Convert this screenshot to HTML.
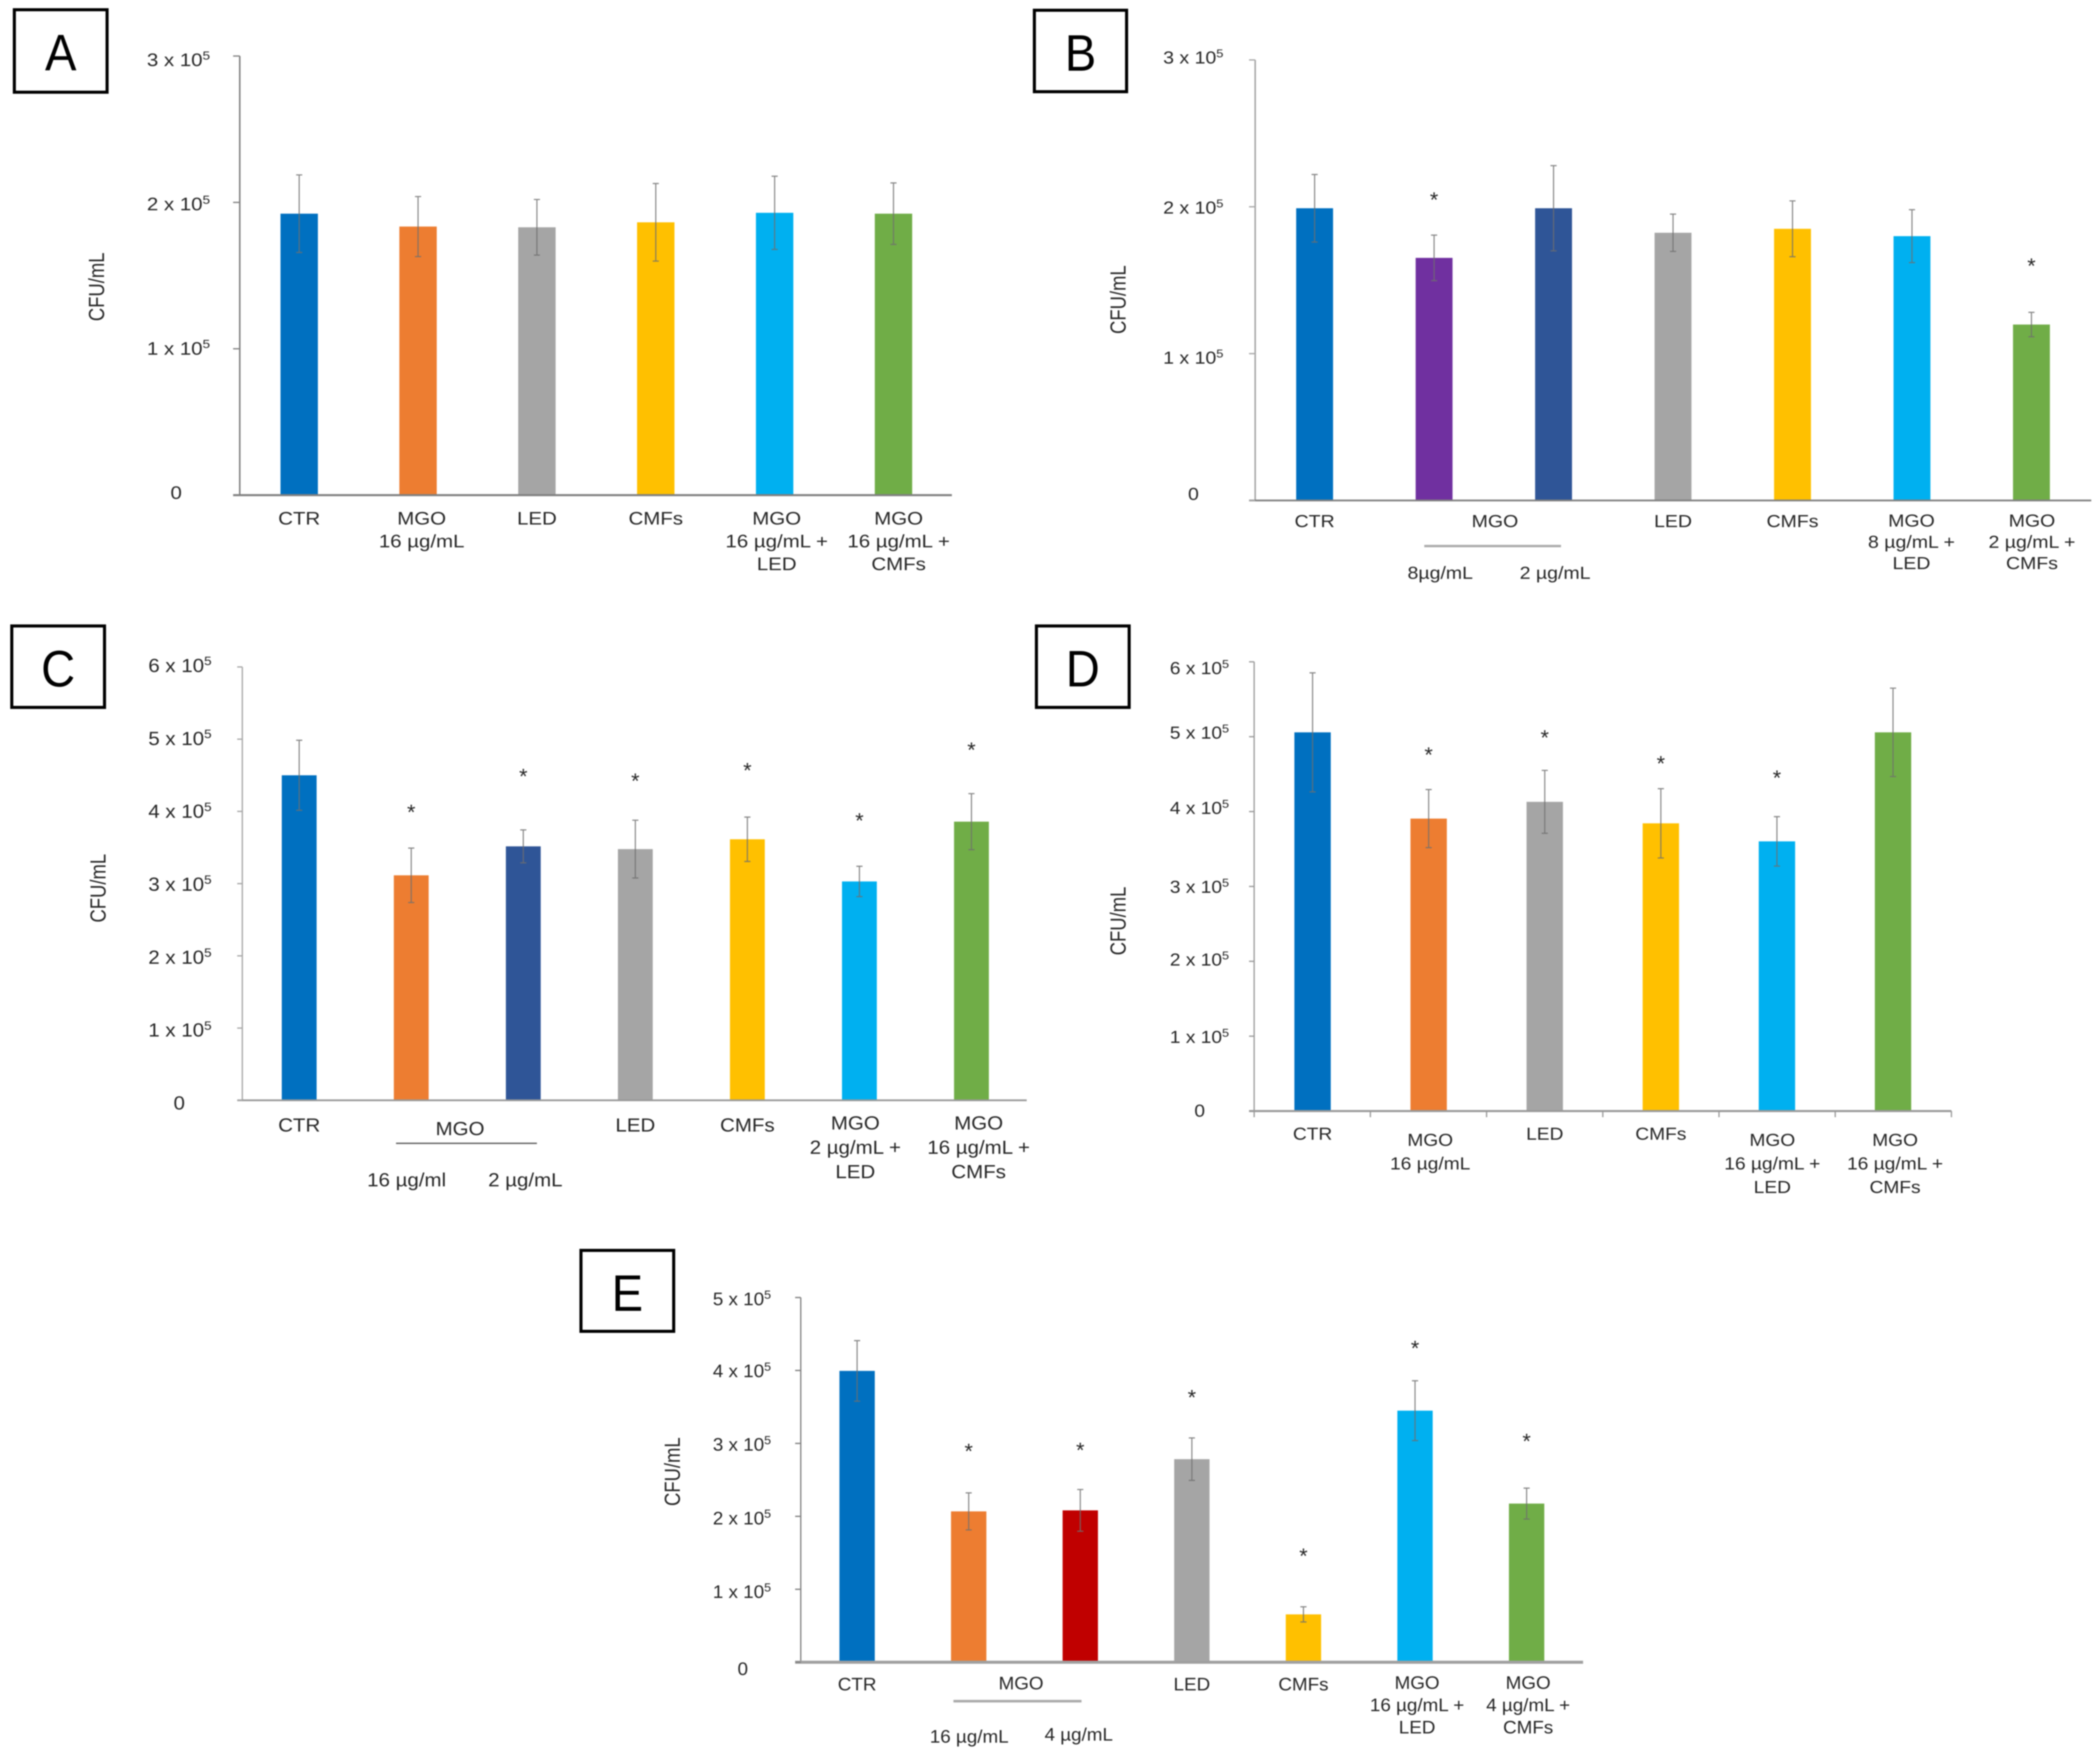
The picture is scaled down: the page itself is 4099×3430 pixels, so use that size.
<!DOCTYPE html>
<html lang="en">
<head>
<meta charset="utf-8">
<title>CFU/mL bar charts, panels A to E</title>
<style>
  html, body { margin: 0; padding: 0; background: #fff; }
  #figure { display: block; width: 4099px; height: 3430px; background: #fff; filter: blur(1.3px); }
  text { font-family: "Liberation Sans", Arial, sans-serif; fill: #262626; }
</style>
</head>
<body>
<svg id="figure" xmlns="http://www.w3.org/2000/svg" width="4099" height="3430" viewBox="0 0 4099 3430"></svg>
<script>
// Values are in units of 1 x 10^5 CFU/mL.
const ticksA = [0, 1, 2, 3];
const tickLabelsA = ['0', '1 x 10^5', '2 x 10^5', '3 x 10^5'];
const categoriesA = ['CTR', 'MGO|16 µg/mL', 'LED', 'CMFs', 'MGO|16 µg/mL +|LED', 'MGO|16 µg/mL +|CMFs'];
const valuesA = [1.923, 1.835, 1.83, 1.864, 1.929, 1.923];
const errorsA = [0.265, 0.205, 0.19, 0.265, 0.25, 0.21];
const starsA = [null, null, null, null, null, null];

const ticksB = [0, 1, 2, 3];
const tickLabelsB = ['0', '1 x 10^5', '2 x 10^5', '3 x 10^5'];
const categoriesB = ['CTR', '8µg/mL', '2 µg/mL', 'LED', 'CMFs', 'MGO|8 µg/mL +|LED', 'MGO|2 µg/mL +|CMFs'];
const valuesB = [1.99, 1.652, 1.99, 1.823, 1.85, 1.8, 1.198];
const errorsB = [0.23, 0.155, 0.29, 0.127, 0.19, 0.18, 0.083];
const starsB = [null, 2.066, null, null, null, null, 1.617];

const ticksC = [0, 1, 2, 3, 4, 5, 6];
const tickLabelsC = ['0', '1 x 10^5', '2 x 10^5', '3 x 10^5', '4 x 10^5', '5 x 10^5', '6 x 10^5'];
const categoriesC = ['CTR', '16 µg/ml', '2 µg/mL', 'LED', 'CMFs', 'MGO|2 µg/mL +|LED', 'MGO|16 µg/mL +|CMFs'];
const valuesC = [4.5, 3.115, 3.516, 3.478, 3.614, 3.03, 3.858];
const errorsC = [0.485, 0.377, 0.228, 0.4, 0.307, 0.21, 0.388];
const starsC = [null, 4.03, 4.525, 4.46, 4.607, 3.912, 4.889];

const ticksD = [0, 1, 2, 3, 4, 5, 6];
const tickLabelsD = ['0', '1 x 10^5', '2 x 10^5', '3 x 10^5', '4 x 10^5', '5 x 10^5', '6 x 10^5'];
const categoriesD = ['CTR', 'MGO|16 µg/mL', 'LED', 'CMFs', 'MGO|16 µg/mL +|LED', 'MGO|16 µg/mL +|CMFs'];
const valuesD = [5.058, 3.906, 4.13, 3.843, 3.602, 5.058];
const errorsD = [0.795, 0.388, 0.42, 0.463, 0.33, 0.59];
const starsD = [null, 4.796, 5.026, 4.68, 4.487, null];

const ticksE = [0, 1, 2, 3, 4, 5];
const tickLabelsE = ['0', '1 x 10^5', '2 x 10^5', '3 x 10^5', '4 x 10^5', '5 x 10^5'];
const categoriesE = ['CTR', '16 µg/mL', '4 µg/mL', 'LED', 'CMFs', 'MGO|16 µg/mL +|LED', 'MGO|4 µg/mL +|CMFs'];
const valuesE = [3.994, 2.068, 2.082, 2.784, 0.656, 3.449, 2.175];
const errorsE = [0.415, 0.254, 0.286, 0.291, 0.104, 0.41, 0.212];
const starsE = [null, 2.932, 2.946, 3.67, 1.496, 4.344, 3.07];

const NS = 'http://www.w3.org/2000/svg';
const svg = document.getElementById('figure');

function make(parent, tag, attrs) {
  const el = document.createElementNS(NS, tag);
  for (const k in attrs) el.setAttribute(k, attrs[k]);
  parent.appendChild(el);
  return el;
}

function makeText(parent, str, x, y, anchor, fs, sx) {
  const el = make(parent, 'text', {
    transform: 'translate(' + x + ',' + y + ') scale(' + sx + ',1)',
    'text-anchor': anchor,
    'font-size': fs
  });
  const parts = str.split('^');
  el.appendChild(document.createTextNode(parts[0]));
  if (parts[1]) {
    const sup = make(el, 'tspan', { 'font-size': fs * 0.66, dy: -fs * 0.36 });
    sup.textContent = parts[1];
  }
  return el;
}

function drawPanel(p) {
  const g = make(svg, 'g', {});
  
  

  const yMax = p.ticks[p.ticks.length - 1];
  const yScale = v => p.y0 - (v / yMax) * (p.y0 - p.yTop);
  const xScale = i => p.x0 + p.step * i;

  // Panel letter box
  const box = make(g, 'rect', { x: p.boxX + 3, y: p.boxY + 3, width: p.boxW - 6, height: p.boxH - 6, fill: '#fff', stroke: '#000', 'stroke-width': 6 });
  
  
  const letter = make(g, 'text', {
    transform: 'translate(' + (p.boxX + p.boxW / 2) + ',' + (p.boxY + 121) + ') scale(0.92,1)',
    'text-anchor': 'middle', 'font-size': 100, style: 'fill:#000'
  });
  letter.textContent = p.letter;
  
  

  // Bars
  p.values.forEach((v, i) => {
    const bar = make(g, 'rect', { x: xScale(i) - p.barW / 2, y: yScale(v), width: p.barW, height: p.y0 - yScale(v), fill: p.colors[i] });
    
    
  });

  // Axes and ticks
  const yAxis = make(g, 'line', { x1: p.axisX, x2: p.axisX, y1: p.yTop, y2: p.y0, stroke: p.yAxisColor, 'stroke-width': p.yAxisW });
  
  
  const xAxis = make(g, 'line', { x1: p.tickLeft, x2: p.xEnd, y1: p.y0, y2: p.y0, stroke: p.xAxisColor, 'stroke-width': p.xAxisW });
  
  

  p.ticks.forEach((t, i) => {
    const tick = make(g, 'line', { x1: p.tickLeft, x2: p.axisX, y1: yScale(t), y2: yScale(t), stroke: p.yAxisColor, 'stroke-width': 2.5 });
    
    
    const frac = i / (p.ticks.length - 1);
    const nudge = p.labelNudge ? p.labelNudge[i] : 0;
    const lab = makeText(g, p.tickLabels[i], i === 0 ? p.zeroEnd : p.labEnd, p.lab0 + (p.labTop - p.lab0) * frac + nudge, 'end', p.fs, p.sx);
    
    
  });

  if (p.xTicks) {
    for (let i = 0; i <= p.categories.length; i++) {
      const xt = p.axisX + (p.xEnd - p.axisX) * i / p.categories.length;
      const tk = make(g, 'line', { x1: xt, x2: xt, y1: p.y0, y2: p.y0 + 12, stroke: p.xAxisColor, 'stroke-width': 2.5 });
      
      
    }
  }

  // Error bars
  p.values.forEach((v, i) => {
    const hi = yScale(v + p.errors[i]);
    const lo = yScale(v - p.errors[i]);
    const cx = xScale(i);
    const eb = make(g, 'path', {
      d: 'M' + (cx - 6) + ' ' + hi + 'H' + (cx + 6) + 'M' + cx + ' ' + hi + 'V' + lo + 'M' + (cx - 6) + ' ' + lo + 'H' + (cx + 6),
      fill: 'none', stroke: '#6f6f6f', 'stroke-width': 2.2, 'stroke-opacity': 0.85
    });
    
    
  });

  // Significance stars
  p.stars.forEach((s, i) => {
    if (s === null) return;
    const star = make(g, 'text', { x: xScale(i), y: yScale(s) + 20, 'text-anchor': 'middle', 'font-size': 42 });
    star.textContent = '*';
    
    
  });

  // Category labels
  p.categories.forEach((c, i) => {
    const lines = c.split('|');
    const isSub = p.subIndex && p.subIndex.indexOf(i) >= 0;
    const base = isSub ? p.subBase[p.subIndex.indexOf(i)] : (lines.length > 1 ? p.baseMulti : p.baseSingle);
    lines.forEach((line, j) => {
      const t = makeText(g, line, xScale(i) + p.labelDx[i], base + j * p.lineH, 'middle', p.fs, p.sx);
      
      
    });
  });

  // MGO group label and rule
  if (p.group) {
    const gl = makeText(g, 'MGO', p.group.textX, p.group.textY, 'middle', p.fs, p.sx);
    
    
    const rule = make(g, 'line', { x1: p.group.x1, x2: p.group.x2, y1: p.group.y, y2: p.group.y, stroke: p.group.color, 'stroke-width': p.group.w });
    
    
  }

  // Y axis title
  const title = make(g, 'text', {
    transform: 'translate(' + (p.titleX + 14) + ',' + p.titleY + ') rotate(-90) scale(1,1.18)',
    'text-anchor': 'middle',
    'font-size': 36
  });
  title.textContent = 'CFU/mL';
  
  
}

const BLUE = '#0070C0', ORANGE = '#ED7D31', GRAY = '#A5A5A5', YELLOW = '#FFC000',
      SKY = '#00B0F0', GREEN = '#70AD47', PURPLE = '#7030A0', NAVY = '#2F5597', RED = '#C00000';

drawPanel({
  letter: 'A', boxX: 25, boxY: 16, boxW: 187, boxH: 167,
  ticks: ticksA, tickLabels: tickLabelsA, categories: categoriesA, values: valuesA, errors: errorsA, stars: starsA,
  colors: [BLUE, ORANGE, GRAY, YELLOW, SKY, GREEN],
  axisX: 468, yTop: 109.4, y0: 966.6, xEnd: 1858, tickLeft: 455, x0: 584, step: 232, barW: 73,
  yAxisColor: '#808080', yAxisW: 3, xAxisColor: '#808080', xAxisW: 4,
  lab0: 974, labTop: 129, labEnd: 410, zeroEnd: 355, fs: 35, sx: 1.14,
  labelDx: [0, 7, 0, 0, 4, 10], baseSingle: 1024, baseMulti: 1024, lineH: 44.6,
  titleX: 189, titleY: 560
});

drawPanel({
  letter: 'B', boxX: 2016, boxY: 17, boxW: 186, boxH: 165,
  ticks: ticksB, tickLabels: tickLabelsB, categories: categoriesB, values: valuesB, errors: errorsB, stars: starsB,
  colors: [BLUE, PURPLE, NAVY, GRAY, YELLOW, SKY, GREEN],
  axisX: 2450, yTop: 117, y0: 977, xEnd: 4082, tickLeft: 2438, x0: 2566, step: 233.2, barW: 72,
  yAxisColor: '#a6a6a6', yAxisW: 3, xAxisColor: '#808080', xAxisW: 3.5,
  lab0: 976, labTop: 124, labEnd: 2388, zeroEnd: 2340, fs: 34, sx: 1.12,
  labelNudge: [0, 18, 9, 0],
  labelDx: [0, 12, 3, 0, 0, -1, 1], baseSingle: 1029, baseMulti: 1028, lineH: 41.5,
  subIndex: [1, 2], subBase: [1130, 1130],
  group: { textX: 2918, textY: 1029, x1: 2780, x2: 3047, y: 1066, color: '#aaaaaa', w: 4.5 },
  titleX: 2183, titleY: 585
});

drawPanel({
  letter: 'C', boxX: 20, boxY: 1219, boxW: 187, boxH: 165,
  ticks: ticksC, tickLabels: tickLabelsC, categories: categoriesC, values: valuesC, errors: errorsC, stars: starsC,
  colors: [BLUE, ORANGE, NAVY, GRAY, YELLOW, SKY, GREEN],
  axisX: 473, yTop: 1302, y0: 2148, xEnd: 2004, tickLeft: 463, x0: 584, step: 218.7, barW: 68,
  yAxisColor: '#a6a6a6', yAxisW: 2.5, xAxisColor: '#999999', xAxisW: 3.5,
  lab0: 2166, labTop: 1312, labEnd: 413, zeroEnd: 361, fs: 37, sx: 1.08,
  labelDx: [0, -9, 4, 0, 0, -8, 14], baseSingle: 2209, baseMulti: 2205, lineH: 47.5,
  subIndex: [1, 2], subBase: [2316, 2316],
  group: { textX: 898, textY: 2216, x1: 773, x2: 1048, y: 2232, color: '#555555', w: 2.5 },
  titleX: 192, titleY: 1734
});

drawPanel({
  letter: 'D', boxX: 2020, boxY: 1219, boxW: 187, boxH: 165,
  ticks: ticksD, tickLabels: tickLabelsD, categories: categoriesD, values: valuesD, errors: errorsD, stars: starsD,
  colors: [BLUE, ORANGE, GRAY, YELLOW, SKY, GREEN],
  axisX: 2448, yTop: 1292, y0: 2169, xEnd: 3809, tickLeft: 2438, x0: 2562, step: 226.6, barW: 71,
  yAxisColor: '#999999', yAxisW: 2.5, xAxisColor: '#999999', xAxisW: 4, xTicks: true,
  lab0: 2180, labTop: 1316, labEnd: 2399, zeroEnd: 2352, fs: 34, sx: 1.1,
  labelNudge: [0, 0, -7, -5, -15, -18, 0],
  labelDx: [0, 3, 0, 0, -9, 4], baseSingle: 2225, baseMulti: 2237, lineH: 46,
  titleX: 2183, titleY: 1798
});

drawPanel({
  letter: 'E', boxX: 1131, boxY: 2438, boxW: 187, boxH: 164,
  ticks: ticksE, tickLabels: tickLabelsE, categories: categoriesE, values: valuesE, errors: errorsE, stars: starsE,
  colors: [BLUE, ORANGE, RED, GRAY, YELLOW, SKY, GREEN],
  axisX: 1563, yTop: 2533, y0: 3245, xEnd: 3090, tickLeft: 1552, x0: 1673, step: 217.8, barW: 69,
  yAxisColor: '#7f7f7f', yAxisW: 2.5, xAxisColor: '#a0a0a0', xAxisW: 6,
  lab0: 3266, labTop: 2548, labEnd: 1505, zeroEnd: 1460, fs: 35, sx: 1.05,
  labelNudge: [4, -3, -3, -3, -3, 0],
  labelDx: [0, 1, -3, 0, 0, 4, 3], baseSingle: 3300, baseMulti: 3297, lineH: 43.5,
  subIndex: [1, 2], subBase: [3402, 3398],
  group: { textX: 1993, textY: 3298, x1: 1861, x2: 2111, y: 3321, color: '#aaaaaa', w: 5 },
  titleX: 1313, titleY: 2873
});
</script>
</body>
</html>
